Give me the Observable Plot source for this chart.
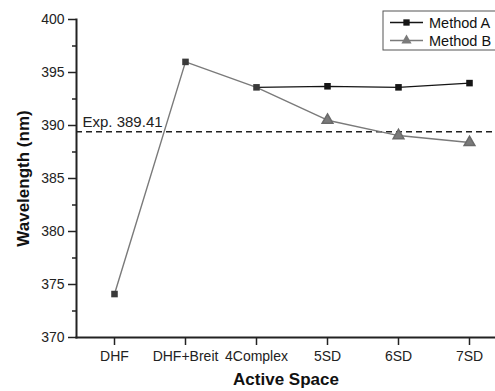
<!DOCTYPE html>
<html>
<head>
<meta charset="utf-8">
<script src="https://cdn.jsdelivr.net/npm/d3@7"></script>
<script src="https://cdn.jsdelivr.net/npm/@observablehq/plot@0.6"></script>
<style>
  html, body { margin: 0; padding: 0; background: #fff; }
  #chart { width: 495px; height: 391px; }
  svg { font-family: "Liberation Sans", Arial, sans-serif; }
</style>
</head>
<body>
<div id="chart"></div>
<script>
const categories = ["DHF", "DHF+Breit", "4Complex", "5SD", "6SD", "7SD"];
const methodA = [374.1, 396.0, 393.6, 393.7, 393.6, 394.0];
const methodB = [374.1, 396.0, 393.6, 390.5, 389.05, 388.4];
const expValue = 389.41;
const expLabel = "Exp. 389.41";
const majorTicks = [370, 375, 380, 385, 390, 395, 400];
const minorTicks = [372.5, 377.5, 382.5, 387.5, 392.5, 397.5];
const seriesNames = ["Method A", "Method B"];
const seriesColors = ["#151515", "#7a7a7a"];

const dataA = categories.map((c, i) => ({cat: c, v: methodA[i], shared: methodA[i] === methodB[i]}));
const dataB = categories.map((c, i) => ({cat: c, v: methodB[i], shared: methodA[i] === methodB[i]}));

const plot = Plot.plot({
  width: 495,
  height: 391,
  marginLeft: 76,
  marginRight: 0,
  marginTop: 19,
  marginBottom: 54,
  style: {fontFamily: "Liberation Sans, Arial, sans-serif", background: "#fff", color: "#222"},
  x: {type: "point", domain: categories, insetLeft: 36, insetRight: 25, padding: 0},
  y: {domain: [370, 400]},
  marks: [
    Plot.ruleY([expValue], {stroke: "#222", strokeWidth: 1.4, strokeDasharray: "6,4"}),
    Plot.text([expLabel], {frameAnchor: "left", y: () => expValue, dx: 6, dy: -10, textAnchor: "start", fontSize: 15, fill: "#222"}),
    Plot.line(dataB, {x: "cat", y: "v", stroke: seriesColors[1], strokeWidth: 1.4}),
    Plot.dot(dataB, {filter: d => !d.shared, x: "cat", y: "v", symbol: "triangle", r: 4, fill: seriesColors[1], stroke: "#6a6a6a"}),
    Plot.line(dataA.slice(2), {x: "cat", y: "v", stroke: seriesColors[0], strokeWidth: 1.3}),
    Plot.dot(dataA, {x: "cat", y: "v", symbol: "square", r: 3.7, fill: d => d.shared ? "#3a3a3a" : seriesColors[0], stroke: "none"}),
    Plot.axisY(minorTicks, {tickSize: 4, tickFormat: () => "", stroke: "#222", strokeWidth: 1.5, label: null}),
    Plot.axisY(majorTicks, {tickSize: 8, tickPadding: 4, fontSize: 14, stroke: "#222", strokeWidth: 1.5,
      label: "Wavelength (nm)", labelAnchor: "center", labelOffset: 60, labelArrow: "none"}),
    Plot.axisX({tickSize: 8, tickPadding: 6, fontSize: 14, stroke: "#222", strokeWidth: 1.5,
      label: "Active Space", labelAnchor: "center", labelOffset: 47, labelArrow: "none"}),
    Plot.frame({anchor: "left", stroke: "#222", strokeWidth: 2}),
    Plot.frame({anchor: "bottom", stroke: "#222", strokeWidth: 2})
  ]
});

document.getElementById("chart").appendChild(plot);

const svg = d3.select(plot);
svg.selectAll('g[aria-label="y-axis label"] text, g[aria-label="x-axis label"] text')
  .attr("font-weight", "bold").attr("font-size", 17).attr("fill", "#111");

// legend
const lg = svg.append("g").attr("class", "legend").attr("text-anchor", "start");
lg.append("rect").attr("x", 383).attr("y", 11).attr("width", 120).attr("height", 39)
  .attr("fill", "#fff").attr("stroke", "#555").attr("stroke-width", 1);
const sym = [d3.symbol(d3.symbolSquare, 40), d3.symbol(d3.symbolTriangle, 45)];
seriesNames.forEach((name, i) => {
  const y = 22.5 + i * 18;
  lg.append("line").attr("x1", 390).attr("x2", 423).attr("y1", y).attr("y2", y)
    .attr("stroke", seriesColors[i]).attr("stroke-width", 1.3);
  lg.append("path").attr("d", sym[i]()).attr("transform", `translate(406.5,${y})`)
    .attr("fill", seriesColors[i]);
  lg.append("text").attr("x", 429).attr("y", y).attr("dy", "0.36em")
    .attr("font-size", 14.5).attr("fill", "#111").text(name);
});
</script>
</body>
</html>
